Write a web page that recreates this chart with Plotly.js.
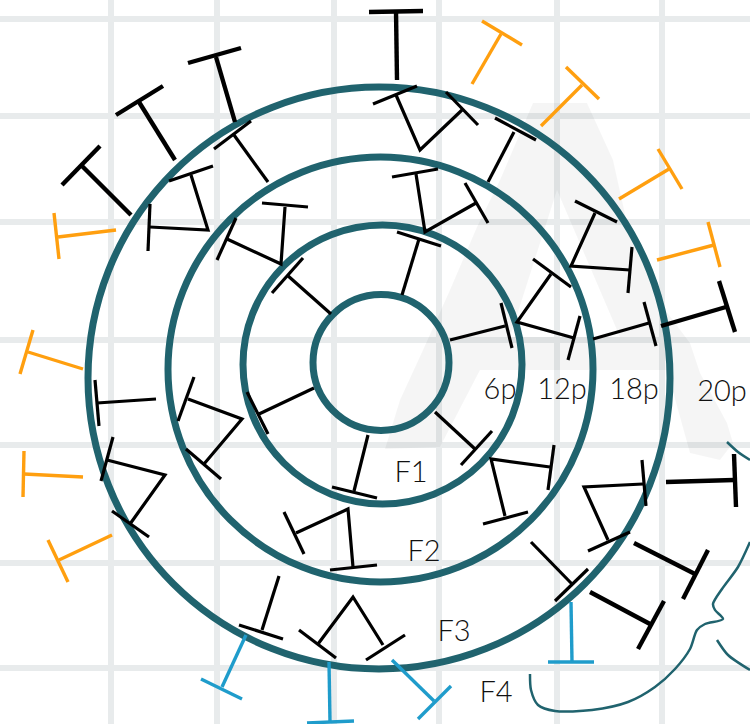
<!DOCTYPE html>
<html><head><meta charset="utf-8">
<script src="https://cdn.plot.ly/plotly-3.0.1.min.js"></script>
<style>html,body{margin:0;padding:0;background:#fff}#c{width:750px;height:724px}</style>
</head><body><div id="c"></div>
<script>
// Grid
const gridX = [111,217,334,439,557,662];
const gridY = [19,116,222,340,445,563,668];
// Concentric rings: centre x, centre y, radius
const ringCx = [381,382.5,380.5,379];
const ringCy = [362.5,364.5,369.5,378];
const ringR  = [68,139.5,212.5,291];
// Labels
const labelText = ['6p','12p','18p','20p','F1','F2','F3','F4'];
const labelX = [500,562,634,722,411,424,454,496];
const labelY = [392,392,392,394,475,554,634,695];
// Faint watermark letter: outline and inner counter
const markX = [533,587,613,627,660,690,700,727,733,720,690,667,480,440,385,400,423,450,477,500];
const markY = [103,103,160,223,303,343,373,423,443,460,453,370,370,447,449,400,350,290,227,180];
const holeX = [557,510,620];
const holeY = [190,337,337];
// Thick black terminals (stem + bar)
const thick = [
 [[397,80],[396,11]], [[369,12],[423,11]],
 [[235,122],[216,57]], [[188,63],[241,48]],
 [[175,160],[139,102]], [[116,115],[163,86]],
 [[131,215],[82,166]], [[62,185],[100,146]],
 [[661,326],[726,307]], [[719,281],[735,332]],
 [[666,482],[734,480]], [[734,454],[736,507]],
 [[634,543],[695,574]], [[708,550],[683,599]],
 [[590,592],[650,624]], [[664,601],[638,649]]
];
// Thin black links and terminals
const thin = [
 [[396,95],[420,150],[462,110]], [[417,86],[373,104]], [[446,92],[478,125]],
 [[488,182],[514,132]], [[495,118],[536,140]],
 [[416,174],[425,232],[476,203]], [[392,177],[438,169]], [[465,183],[488,223]],
 [[402,295],[419,239]], [[397,232],[441,246]],
 [[450,340],[505,326]], [[501,303],[512,348]],
 [[551,274],[517,322],[574,338]], [[533,259],[571,287]], [[580,316],[568,360]],
 [[595,213],[571,266],[630,270]], [[575,201],[617,222]], [[632,247],[628,293]],
 [[593,339],[649,323]], [[644,302],[656,346]],
 [[435,412],[475,449]], [[492,431],[461,465]],
 [[550,467],[491,459],[505,516]], [[554,445],[548,490]], [[483,524],[528,512]],
 [[643,484],[584,487],[608,540]], [[642,460],[646,506]], [[588,551],[630,532]],
 [[531,542],[572,584]], [[588,569],[555,601]],
 [[368,435],[354,491]], [[332,487],[377,498]],
 [[296,533],[348,509],[353,567]], [[284,512],[304,554]], [[330,570],[377,565]],
 [[314,388],[259,414]], [[247,392],[268,434]],
 [[188,399],[242,419],[204,464]], [[194,377],[178,421]], [[186,449],[221,479]],
 [[156,399],[97,403]], [[95,380],[99,426]],
 [[107,460],[165,475],[130,524]], [[113,437],[101,481]], [[112,511],[149,537]],
 [[279,576],[262,630]], [[239,625],[283,639]],
 [[318,644],[353,597],[383,645]], [[299,630],[336,658]], [[405,635],[366,660]],
 [[268,182],[234,135]], [[214,149],[251,121]],
 [[191,175],[208,230],[150,227]], [[169,181],[213,166]], [[150,204],[148,251]],
 [[285,207],[281,264],[227,239]], [[262,203],[308,207]], [[236,218],[217,260]],
 [[331,314],[287,275]], [[303,258],[272,293]]
];
// Orange terminals
const orange = [
 [[116,230],[58,237]], [[54,213],[59,259]],
 [[83,369],[28,352]], [[33,330],[20,374]],
 [[83,477],[24,474]], [[24,451],[23,497]],
 [[112,535],[59,560]], [[48,540],[68,582]],
 [[472,84],[501,34]], [[482,21],[522,45]],
 [[541,126],[582,85]], [[566,67],[599,99]],
 [[619,199],[669,169]], [[658,149],[682,189]],
 [[657,260],[714,245]], [[708,222],[720,267]]
];
// Blue terminals
const blue = [
 [[246,635],[222,687]], [[201,679],[242,699]],
 [[329,662],[330,722]], [[307,723],[354,721]],
 [[392,660],[434,701]], [[451,686],[418,719]],
 [[571,602],[572,662]], [[548,662],[594,662]]
];
// Hand-drawn brace strokes
const brace = [
 [[530,674],[531,690],[538,705],[555,711],[592,710],[628,702],[655,687],[675,669],[690,649],[697,630],[705,624],[723,619],[715,610],[713,604],[722,589],[738,567],[750,542]],
 [[727,442],[738,452],[750,460]],
 [[717,640],[728,655],[750,670]]
];

const TEAL = '#20636e', GRID = '#e8ebec';
function flat(list){
  const x=[],y=[];
  list.forEach(p=>{p.forEach(q=>{x.push(q[0]);y.push(q[1]);});x.push(null);y.push(null);});
  return {x,y};
}
function lines(list,color,width){
  const f=flat(list);
  return {type:'scatter',mode:'lines',x:f.x,y:f.y,hoverinfo:'skip',showlegend:false,
          line:{color:color,width:width}};
}
function poly(xs,ys){return 'M'+xs.map((v,i)=>v+' '+ys[i]).join(' L')+' Z';}
const shapes=[];
gridX.forEach(v=>shapes.push({type:'line',layer:'below',xref:'x',yref:'y',x0:v,x1:v,y0:0,y1:724,line:{color:GRID,width:6}}));
gridY.forEach(v=>shapes.push({type:'line',layer:'below',xref:'x',yref:'y',x0:0,x1:750,y0:v,y1:v,line:{color:GRID,width:6}}));
shapes.push({type:'path',layer:'below',xref:'x',yref:'y',
  path:poly(markX,markY)+' '+poly(holeX,holeY),
  fillrule:'evenodd',fillcolor:'rgba(0,0,0,0.04)',line:{width:0}});
ringR.forEach((r,i)=>shapes.push({type:'circle',layer:'below',xref:'x',yref:'y',
  x0:ringCx[i]-r,x1:ringCx[i]+r,y0:ringCy[i]-r,y1:ringCy[i]+r,
  fillcolor:'rgba(0,0,0,0)',line:{color:TEAL,width:7}}));

const braceTraces = brace.map(b=>({type:'scatter',mode:'lines',x:b.map(p=>p[0]),y:b.map(p=>p[1]),
  hoverinfo:'skip',showlegend:false,line:{color:TEAL,width:2.5,shape:'spline',smoothing:0.8}}));

const data=[
  ...braceTraces,
  lines(thin,'#000000',3.2),
  lines(thick,'#000000',4.4),
  lines(orange,'#ff9f0f',3.4),
  lines(blue,'#1f9ccb',3.4),
  {type:'scatter',mode:'text',x:labelX,y:labelY,text:labelText,textposition:'middle center',
   hoverinfo:'skip',showlegend:false,textfont:{family:'Lato, sans-serif',size:29,weight:300,color:'#111111'}}
];
const layout={width:750,height:724,margin:{l:0,r:0,t:0,b:0},paper_bgcolor:'#fff',plot_bgcolor:'#fff',
  showlegend:false,shapes:shapes,
  xaxis:{range:[0,750],visible:false,fixedrange:true},
  yaxis:{range:[724,0],visible:false,fixedrange:true}};
Plotly.newPlot('c',data,layout,{displayModeBar:false,staticPlot:true});
</script></body></html>
